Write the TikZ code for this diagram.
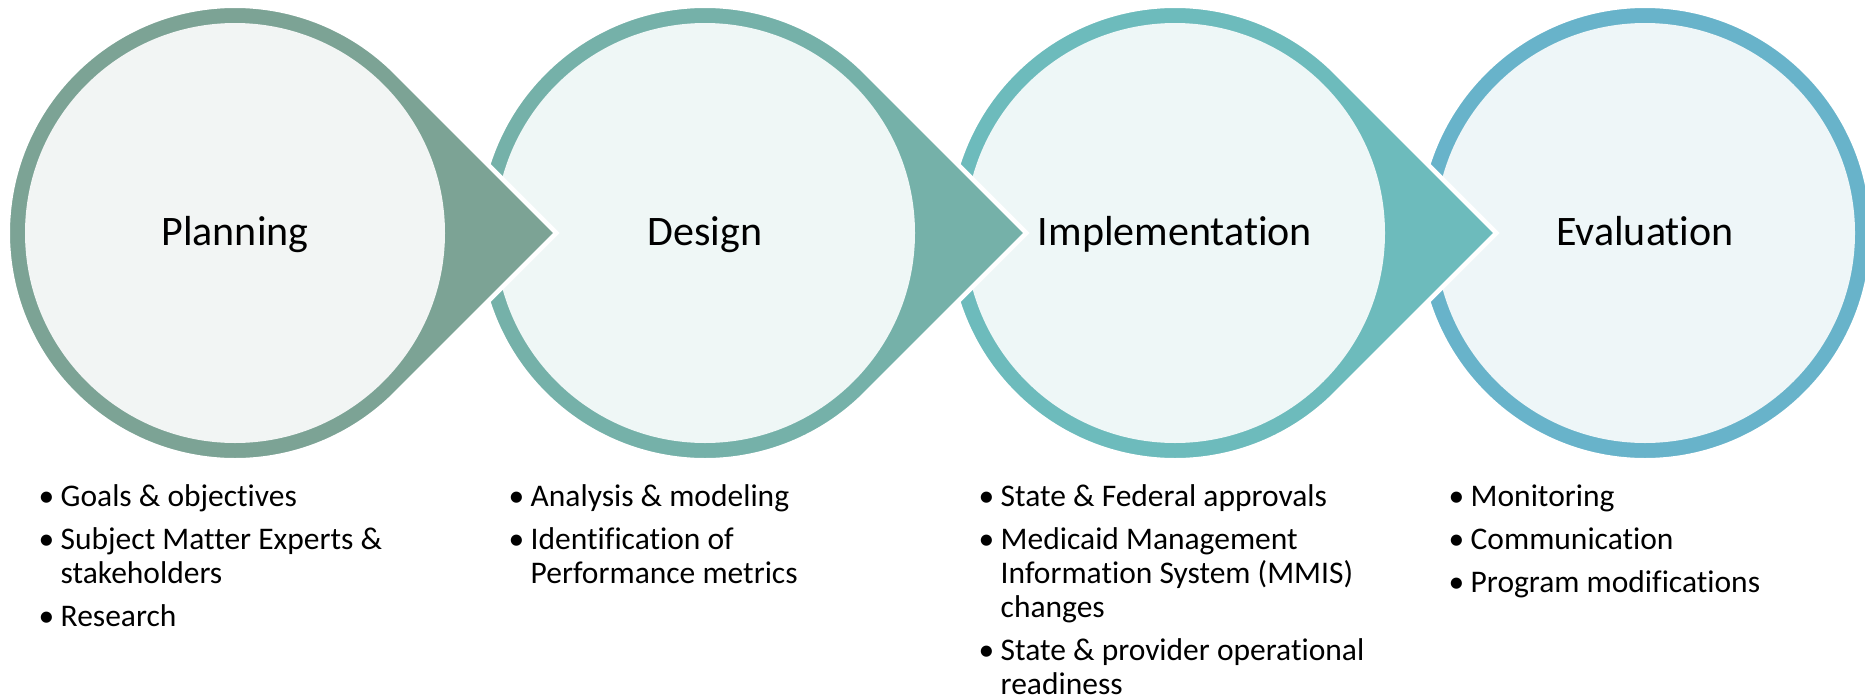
\documentclass[tikz,border=0pt]{standalone}
\usepackage{fontspec}
\setmainfont{Carlito}[Ligatures=NoCommon]

\definecolor{ringPlan}{HTML}{7CA395}
\definecolor{ringDesign}{HTML}{75B1A9}
\definecolor{ringImpl}{HTML}{6DBBBC}
\definecolor{ringEval}{HTML}{68B3CA}
\definecolor{corePlan}{HTML}{F2F5F4}
\definecolor{coreDesign}{HTML}{EFF7F6}
\definecolor{coreImpl}{HTML}{EEF7F7}
\definecolor{coreEval}{HTML}{EEF6F8}

\tikzset{
  phaseshape/.style={fill=#1, draw=white, line width=4.5pt, line join=miter},
  phasecore/.style={fill=#1},
  phasetitle/.style={font=\fontsize{42}{50}\selectfont, anchor=base, inner sep=0pt},
  phasenotes/.style={font=\fontsize{31.5}{34}\selectfont, anchor=base west, inner sep=0pt},
}

% circle with a right-pointing tip; #1 = centre x, #2 = ring colour, #3 = core colour
\newcommand\tippedphase[3]{%
  \path[phaseshape=#2] (#1,233) ++(-45:227.25)
    arc[start angle=-45, end angle=-315, radius=227.25]
    -- (#1+321.4,233) -- cycle;
  \fill[phasecore=#3] (#1,233) circle[radius=210];
}
% last phase: plain circle
\newcommand\plainphase[3]{%
  \path[phaseshape=#2] (#1,233) circle[radius=227.25];
  \fill[phasecore=#3] (#1,233) circle[radius=210];
}

% bullet list set as a top-aligned box
\newcommand\notelist[1]{\vtop{\hsize=440pt\parindent=0pt\parskip=9pt
  \rightskip=0pt plus 1fil\relax\baselineskip=34pt #1}}
\newcommand\noteitem[1]{\hangindent=22pt\hangafter=1\leavevmode
  \hbox to 22pt{•\hfil}#1\par}

\begin{document}
\begin{tikzpicture}[x=1pt,y=-1pt]
  \useasboundingbox (0,0) rectangle (1865,699);

  % phases, drawn right to left so each tip lies over the next circle
  \plainphase{1645}{ringEval}{coreEval}
  \tippedphase{1175}{ringImpl}{coreImpl}
  \tippedphase{705}{ringDesign}{coreDesign}
  \tippedphase{235}{ringPlan}{corePlan}

  % phase titles
  \node[phasetitle] (plan) at (235,245.5) {Planning};
  \node[phasetitle] (design) at (705,245.5) {Design};
  \node[phasetitle] (impl) at (1175,245.5) {Implementation};
  \node[phasetitle] (eval) at (1645,245.5) {Evaluation};

  % activities under each phase
  \node[phasenotes] (planNotes) at (38.5,506.7) {\notelist{%
    \noteitem{Goals \& objectives}
    \noteitem{Subject Matter Experts \&\newline stakeholders}
    \noteitem{Research}}};
  \node[phasenotes] (designNotes) at (508.5,506.7) {\notelist{%
    \noteitem{Analysis \& modeling}
    \noteitem{Identification of\newline Performance metrics}}};
  \node[phasenotes] (implNotes) at (978.5,506.7) {\notelist{%
    \noteitem{State \& Federal approvals}
    \noteitem{Medicaid Management\newline Information System (MMIS)\newline changes}
    \noteitem{State \& provider operational\newline readiness}}};
  \node[phasenotes] (evalNotes) at (1448.5,506.7) {\notelist{%
    \noteitem{Monitoring}
    \noteitem{Communication}
    \noteitem{Program modifications}}};
\end{tikzpicture}
\end{document}
